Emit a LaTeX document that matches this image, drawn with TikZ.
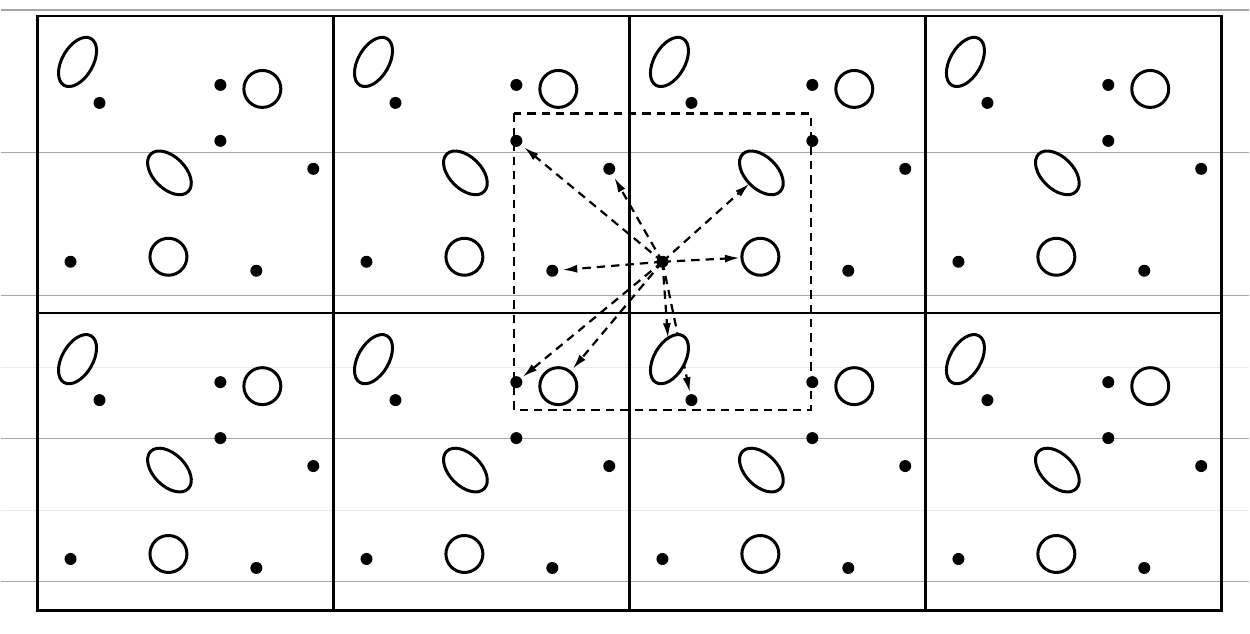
\documentclass[tikz,border=0pt]{standalone}
\usetikzlibrary{shapes.geometric,arrows.meta}
\pgfdeclarelayer{bg}
\pgfdeclarelayer{arrowlayer}
\pgfsetlayers{bg,arrowlayer,main}
\tikzset{
  gridline/.style={line width=1.15pt},
  boxdash/.style={line width=1.1pt, dash pattern=on 4.2pt off 3pt},
  arr/.style={line width=1.1pt, dash pattern=on 4.2pt off 3pt, -{Latex[length=7.5pt,width=4pt]}},
  dotp/.style={circle, fill=black, inner sep=0pt, outer sep=0pt, minimum size=6pt},
  ringp/.style={circle, draw, line width=1.5pt, fill=white, inner sep=0pt, outer sep=0pt, minimum size=18.5pt},
  ellA/.style={ellipse, draw, line width=1.5pt, fill=white, inner sep=0pt, outer sep=0pt, minimum width=27pt, minimum height=15.5pt, rotate=60},
  ellB/.style={ellipse, draw, line width=1.5pt, fill=white, inner sep=0pt, outer sep=0pt, minimum width=26.5pt, minimum height=16pt, rotate=-45},
  scanline/.style={line width=0.6pt, black!35},
  faintline/.style={line width=0.6pt, black!8}
}
\begin{document}
\begin{tikzpicture}[x=0.5pt,y=-0.5pt]
\begin{pgfonlayer}{bg}
  \fill[white] (0,0) rectangle (1250,634);
  \foreach \yy in {10,153,296,439,582} \draw[scanline] (0,\yy) -- (1250,\yy);
  \foreach \yy in {368,511} \draw[faintline] (0,\yy) -- (1250,\yy);
\end{pgfonlayer}
\useasboundingbox (0,0) rectangle (1250,634);

% grid of periodic cells
\draw[gridline] (37,16) rectangle (1222,611);
\foreach \xx in {333.25,629.5,925.75} \draw[gridline] (\xx,16) -- (\xx,611);
\draw[gridline] (37,313.5) -- (1222,313.5);

% particles in every cell
\foreach \i in {0,1,2,3}{
  \foreach \j in {0,1}{
    \pgfmathsetmacro\ox{37+296.25*\i}
    \pgfmathsetmacro\oy{16+297.5*\j}
    \node[ellA]  (E1-\i-\j) at (\ox+40,\oy+46) {};
    \node[dotp]  (d1-\i-\j) at (\ox+62,\oy+87) {};
    \node[dotp]  (d2-\i-\j) at (\ox+183,\oy+69) {};
    \node[ringp] (C1-\i-\j) at (\ox+225,\oy+73) {};
    \node[dotp]  (d3-\i-\j) at (\ox+183,\oy+125) {};
    \node[ellB]  (E2-\i-\j) at (\ox+132,\oy+157) {};
    \node[dotp]  (d4-\i-\j) at (\ox+276,\oy+153) {};
    \node[dotp]  (d5-\i-\j) at (\ox+33,\oy+246) {};
    \node[ringp] (C2-\i-\j) at (\ox+131,\oy+241) {};
    \node[dotp]  (d6-\i-\j) at (\ox+219,\oy+255) {};
  }
}

% cut-off box around the central particle
\draw[boxdash] ([shift={(-148.5,-148.5)}]d5-2-0.center) rectangle ([shift={(148.5,148.5)}]d5-2-0.center);

% minimum-image connectors
\begin{pgfonlayer}{arrowlayer}
  \foreach \t/\s in {d3-1-0/2pt, d4-1-0/2pt, E2-2-0/0pt, C2-2-0/1pt, d6-1-0/2pt,
                     E1-2-1/0pt, d1-2-1/1pt, d2-1-1/1pt, C1-1-1/2pt}
    \draw[arr, shorten >=\s] (d5-2-0.center) -- (\t);
\end{pgfonlayer}
\end{tikzpicture}
\end{document}
